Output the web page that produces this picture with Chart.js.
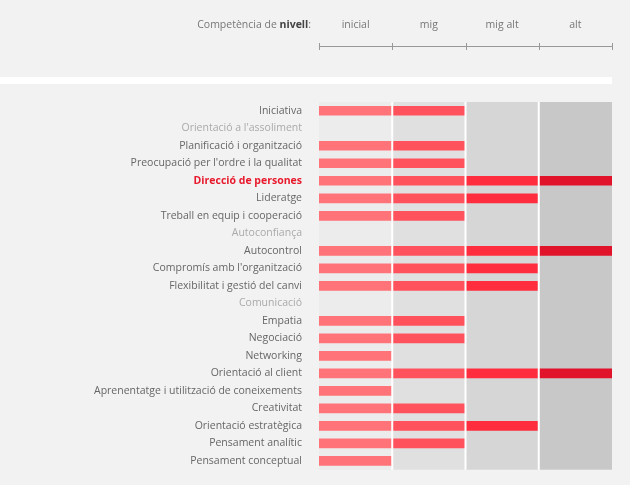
<!DOCTYPE html>
<html><head><meta charset="utf-8">
<script src="https://cdn.jsdelivr.net/npm/chart.js@4"></script>
<style>html,body{margin:0;padding:0;background:#f2f2f2}#w{width:630px;height:485px}</style>
</head><body><div id="w"><canvas id="c"></canvas></div>
<script>
const categories=["Iniciativa","Orientació a l'assoliment","Planificació i organització","Preocupació per l'ordre i la qualitat","Direcció de persones","Lideratge","Treball en equip i cooperació","Autoconfiança","Autocontrol","Compromís amb l'organització","Flexibilitat i gestió del canvi","Comunicació","Empatia","Negociació","Networking","Orientació al client","Aprenentatge i utilització de coneixements","Creativitat","Orientació estratègica","Pensament analític","Pensament conceptual"];
const levels=[2,0,2,2,4,3,2,0,4,3,3,0,2,2,1,4,1,2,3,2,1];
const levelNames=["inicial","mig","mig alt","alt"];
const highlight="Direcció de persones";
const segColors=["#ff7379","#ff525c","#ff2d3d","#e0132a"];
const bandColors=["#ececec","#e0e0e0","#d6d6d6","#c8c8c8"];
const FONT="'Open Sans', sans-serif";
const FS=10.5;
const datasets=levelNames.map((n,i)=>({label:n,data:levels.map(l=>l>i?1:null),backgroundColor:segColors[i],barThickness:9,stack:'s'}));
const deco={id:'deco',
beforeDraw(ch){const c=ch.ctx,x=ch.scales.x,a=ch.chartArea;
 c.save();c.fillStyle='#fff';c.fillRect(0,77,612,7);
 for(let i=0;i<4;i++){c.fillStyle=bandColors[i];c.fillRect(x.getPixelForValue(i),a.top,x.getPixelForValue(i+1)-x.getPixelForValue(i),a.bottom-a.top);}
 c.font=FS+"px "+FONT;c.textBaseline='middle';c.fillStyle='#777';c.textAlign='right';
 const t1="Competència de ",t2="nivell",t3=":";
 c.font="bold "+FS+"px "+FONT;const w2=c.measureText(t2).width;c.font=FS+"px "+FONT;const w3=c.measureText(t3).width;
 const r=311;c.fillText(t3,r,25);c.font="bold "+FS+"px "+FONT;c.fillStyle='#444';c.fillText(t2,r-w3,25);c.font=FS+"px "+FONT;c.fillStyle='#777';c.fillText(t1,r-w3-w2,25);
 c.textAlign='center';
 for(let i=0;i<4;i++)c.fillText(levelNames[i],(x.getPixelForValue(i)+x.getPixelForValue(i+1))/2,25);
 c.strokeStyle='#999';c.lineWidth=1;c.beginPath();c.moveTo(x.getPixelForValue(0),46.5);c.lineTo(x.getPixelForValue(4),46.5);
 for(let i=0;i<=4;i++){const p=Math.round(x.getPixelForValue(i))+0.5;c.moveTo(p,43);c.lineTo(p,50);}c.stroke();c.restore();},
afterDatasetsDraw(ch){const c=ch.ctx,x=ch.scales.x,a=ch.chartArea;c.save();c.strokeStyle='#fff';c.lineWidth=2;c.beginPath();
 for(let i=1;i<4;i++){const p=x.getPixelForValue(i);c.moveTo(p,a.top);c.lineTo(p,a.bottom);}c.stroke();c.restore();}};
new Chart(document.getElementById('c'),{type:'bar',data:{labels:categories,datasets},
options:{indexAxis:'y',responsive:true,maintainAspectRatio:false,animation:false,
layout:{padding:{top:102,bottom:15,right:18,left:0}},
plugins:{legend:{display:false},tooltip:{enabled:false}},
scales:{x:{min:0,max:4,display:false,stacked:true},
y:{stacked:true,grid:{display:false},border:{display:false},afterFit(s){s.width=319;},
ticks:{padding:9,autoSkip:false,
 color:c=>{const n=categories[c.index];return n===highlight?'#e8192c':(levels[c.index]===0?'#aaa':'#666');},
 font:c=>({family:FONT,size:FS,weight:categories[c.index]===highlight?'bold':'normal'})}}}},
plugins:[deco]});
</script></body></html>
